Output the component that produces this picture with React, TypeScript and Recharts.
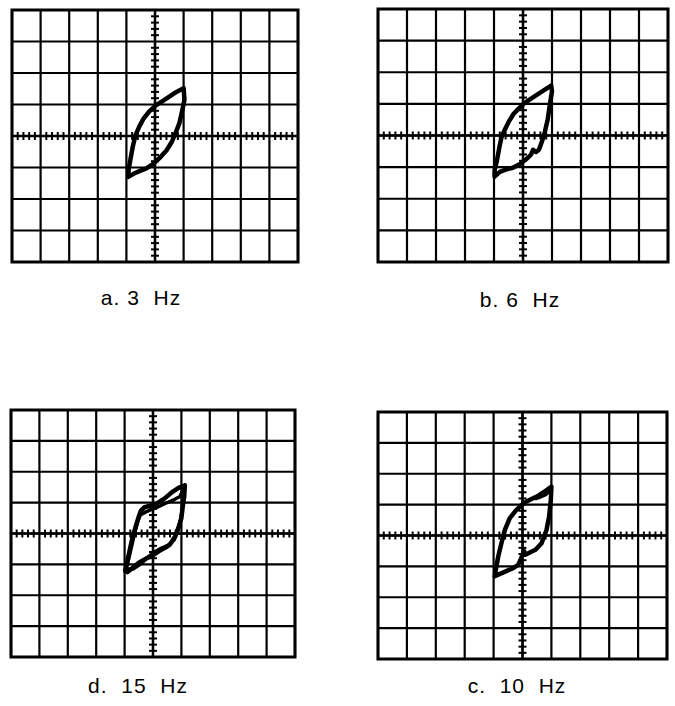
import React from 'react';
import {
  ComposedChart,
  Line,
  Scatter,
  XAxis,
  YAxis,
  CartesianGrid,
  ReferenceLine,
  ReferenceArea,
} from 'recharts';

type Pt = [number, number];

// Graticule: 10 x 8 divisions, 5 minor ticks per division on the centre axes
const X_TICKS = [-5, -4, -3, -2, -1, 0, 1, 2, 3, 4, 5];
const Y_TICKS = [-4, -3, -2, -1, 0, 1, 2, 3, 4];

// Lissajous traces, in screen divisions (x, y)
const loop3Hz: Pt[] = [
  [1.0, 1.52], [0.75, 1.4], [0.5, 1.25], [0.25, 1.1], [0.03, 0.97], [-0.2, 0.78],
  [-0.4, 0.55], [-0.55, 0.3], [-0.68, 0.03], [-0.78, -0.35], [-0.86, -0.75],
  [-0.92, -1.05], [-0.93, -1.3], [-0.75, -1.2], [-0.5, -1.1], [-0.3, -1.03],
  [-0.05, -0.88], [0.2, -0.66], [0.4, -0.46], [0.58, -0.2], [0.7, 0.05],
  [0.85, 0.4], [0.95, 0.8], [1.03, 1.15], [1.0, 1.52],
];

const loop6Hz: Pt[] = [
  [0.97, 1.58], [0.7, 1.42], [0.45, 1.27], [0.2, 1.12], [0.02, 1.0], [-0.15, 0.85],
  [-0.33, 0.68], [-0.5, 0.42], [-0.62, 0.2], [-0.74, -0.05], [-0.82, -0.4],
  [-0.9, -0.8], [-0.98, -1.1], [-0.98, -1.3], [-0.8, -1.15], [-0.6, -1.08],
  [-0.35, -1.02], [-0.1, -0.9], [0.15, -0.72], [0.28, -0.6], [0.35, -0.45],
  [0.45, -0.52], [0.55, -0.45], [0.65, -0.2], [0.75, 0.1], [0.85, 0.5],
  [0.93, 1.0], [1.0, 1.4], [0.97, 1.58],
];

const loop15HzA: Pt[] = [
  [1.12, 1.56], [0.9, 1.48], [0.7, 1.36], [0.4, 1.13], [0.1, 0.95], [-0.1, 0.9],
  [-0.3, 0.85], [-0.42, 0.75], [-0.5, 0.55], [-0.6, 0.25], [-0.7, -0.05],
  [-0.8, -0.45], [-0.88, -0.8], [-0.98, -1.2], [-0.9, -1.25], [-0.7, -1.1],
  [-0.5, -0.95], [-0.25, -0.82], [0.0, -0.7], [0.2, -0.58], [0.45, -0.45],
  [0.6, -0.35], [0.78, -0.1], [0.9, 0.2], [1.0, 0.5], [1.05, 0.9], [1.1, 1.2],
  [1.12, 1.56],
];

const loop15HzB: Pt[] = [
  [1.1, 1.5], [0.95, 1.2], [0.75, 1.1], [0.45, 0.98], [0.15, 0.85], [-0.05, 0.78],
  [-0.25, 0.7], [-0.45, 0.6], [-0.55, 0.35], [-0.65, 0.0], [-0.75, -0.4],
  [-0.85, -0.8], [-0.95, -1.15], [-0.7, -1.15], [-0.45, -1.0], [-0.2, -0.78],
  [0.05, -0.6], [0.3, -0.47], [0.55, -0.38], [0.75, -0.2], [0.88, 0.1],
  [0.98, 0.5], [1.05, 0.9], [1.1, 1.5],
];

const loop10HzA: Pt[] = [
  [1.0, 1.58], [0.8, 1.45], [0.6, 1.31], [0.35, 1.2], [0.14, 1.1], [-0.05, 0.97],
  [-0.21, 0.83], [-0.44, 0.56], [-0.61, 0.18], [-0.73, -0.25], [-0.84, -0.68],
  [-0.92, -1.1], [-0.96, -1.32], [-0.8, -1.25], [-0.6, -1.17], [-0.35, -1.07],
  [-0.15, -0.95], [-0.05, -0.75], [0.05, -0.5], [0.1, -0.62], [0.25, -0.55],
  [0.45, -0.46], [0.66, -0.25], [0.83, 0.18], [0.92, 0.61], [0.98, 1.15],
  [1.0, 1.58],
];

const loop10HzB: Pt[] = [
  [0.98, 1.5], [0.8, 1.32], [0.6, 1.24], [0.45, 1.2], [0.62, 1.36], [0.8, 1.44],
];

const toRows = (pts: Pt[]) => pts.map(([x, y]) => ({ x, y }));

// minor graduations along the centre cross (every 0.2 div, skipping whole divisions)
const minorX = Array.from({ length: 51 }, (_, i) => -5 + i * 0.2)
  .filter(v => Math.abs(v - Math.round(v)) > 0.01)
  .map(x => ({ x, y: 0 }));
const minorY = Array.from({ length: 41 }, (_, i) => -4 + i * 0.2)
  .filter(v => Math.abs(v - Math.round(v)) > 0.01)
  .map(y => ({ x: 0, y }));

const VTick = (p: any) => (
  <line x1={p.cx} x2={p.cx} y1={p.cy - 4} y2={p.cy + 4} stroke="#000" strokeWidth={2} />
);
const HTick = (p: any) => (
  <line x1={p.cx - 4} x2={p.cx + 4} y1={p.cy} y2={p.cy} stroke="#000" strokeWidth={2} />
);

interface PanelProps {
  left: number;
  top: number;
  w: number;
  h: number;
  loops: Pt[][];
}

const PAD = 6;

const Scope: React.FC<PanelProps> = ({ left, top, w, h, loops }) => (
  <div style={{ position: 'absolute', left: left - PAD, top: top - PAD }}>
    <ComposedChart
      width={w + PAD * 2}
      height={h + PAD * 2}
      margin={{ top: PAD, right: PAD, bottom: PAD, left: PAD }}
    >
      <XAxis type="number" dataKey="x" domain={[-5, 5]} ticks={X_TICKS} hide allowDataOverflow />
      <YAxis type="number" dataKey="y" domain={[-4, 4]} ticks={Y_TICKS} hide allowDataOverflow />
      <CartesianGrid stroke="#000" strokeWidth={2.2} />
      <ReferenceArea x1={-5} x2={5} y1={-4} y2={4} fill="none" stroke="#000" strokeWidth={3} ifOverflow="visible" />
      <ReferenceLine x={0} stroke="#000" strokeWidth={2.4} />
      <ReferenceLine y={0} stroke="#000" strokeWidth={2.4} />
      <Scatter data={minorX} shape={VTick} isAnimationActive={false} />
      <Scatter data={minorY} shape={HTick} isAnimationActive={false} />
      {loops.map((pts, i) => (
        <Line
          key={i}
          data={toRows(pts)}
          dataKey="y"
          type="linear"
          stroke="#000"
          strokeWidth={i === 0 ? 4.5 : 3.5}
          strokeLinejoin="round"
          strokeLinecap="round"
          dot={false}
          activeDot={false}
          isAnimationActive={false}
        />
      ))}
    </ComposedChart>
  </div>
);

const Caption: React.FC<{ cx: number; y: number; text: string }> = ({ cx, y, text }) => (
  <div
    style={{
      position: 'absolute',
      left: cx - 80,
      top: y,
      width: 160,
      textAlign: 'center',
      fontFamily: '"Liberation Sans", Arial, sans-serif',
      fontSize: 21,
      color: '#000',
      whiteSpace: 'pre',
      letterSpacing: 1,
    }}
  >
    {text}
  </div>
);

export default function App() {
  return (
    <div style={{ position: 'absolute', left: 0, top: 0, width: 675, height: 706, background: '#fff' }}>
      <Scope left={12} top={10} w={286} h={252} loops={[loop3Hz]} />
      <Scope left={378} top={9} w={290} h={253} loops={[loop6Hz]} />
      <Scope left={11} top={410} w={284} h={247} loops={[loop15HzA, loop15HzB]} />
      <Scope left={378} top={412} w={289} h={247} loops={[loop10HzA, loop10HzB]} />
      <Caption cx={141} y={286} text="a. 3  Hz" />
      <Caption cx={520} y={288} text="b. 6  Hz" />
      <Caption cx={138} y={674} text="d.  15  Hz" />
      <Caption cx={517} y={674} text="c.  10  Hz" />
    </div>
  );
}
